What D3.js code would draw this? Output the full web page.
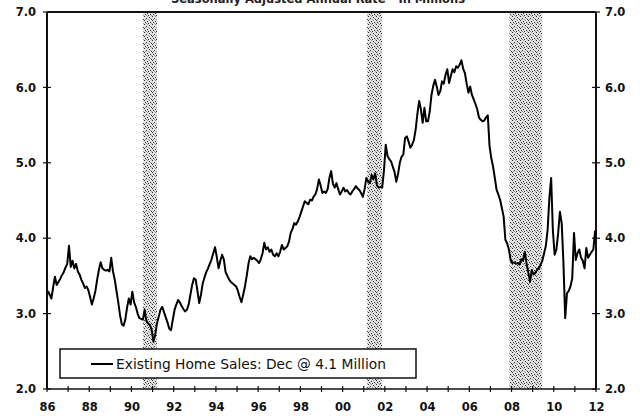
<!DOCTYPE html>
<html>
<head>
<meta charset="utf-8">
<script src="https://cdn.jsdelivr.net/npm/d3@7/dist/d3.min.js"></script>
<style>
  html, body { margin: 0; padding: 0; background: #fff; }
  svg { display: block; }
</style>
</head>
<body>
<svg id="chart" width="640" height="418"></svg>
<script>
// Existing single-family home sales, seasonally adjusted annual rate, millions.
// One row per year, January..December.
const startYear = 1986;
const sales = [
  [3.30, 3.25, 3.20, 3.35, 3.49, 3.38, 3.42, 3.46, 3.51, 3.55, 3.61, 3.66], // 1986
  [3.90, 3.62, 3.70, 3.60, 3.66, 3.56, 3.52, 3.45, 3.40, 3.34, 3.36, 3.31], // 1987
  [3.22, 3.12, 3.20, 3.30, 3.45, 3.58, 3.68, 3.60, 3.58, 3.57, 3.58, 3.56], // 1988
  [3.74, 3.56, 3.45, 3.30, 3.15, 2.98, 2.86, 2.84, 2.92, 3.08, 3.20, 3.12], // 1989
  [3.29, 3.15, 3.09, 3.00, 2.94, 2.93, 2.92, 3.05, 2.90, 2.87, 2.85, 2.78], // 1990
  [2.63, 2.72, 2.87, 2.96, 3.05, 3.09, 3.02, 2.95, 2.88, 2.80, 2.78, 2.92], // 1991
  [3.05, 3.12, 3.18, 3.15, 3.10, 3.06, 3.03, 3.05, 3.12, 3.25, 3.38, 3.47], // 1992
  [3.45, 3.30, 3.14, 3.25, 3.40, 3.48, 3.55, 3.60, 3.66, 3.72, 3.80, 3.88], // 1993
  [3.75, 3.60, 3.70, 3.78, 3.72, 3.55, 3.50, 3.45, 3.42, 3.40, 3.38, 3.36], // 1994
  [3.30, 3.22, 3.15, 3.25, 3.36, 3.50, 3.66, 3.76, 3.72, 3.74, 3.72, 3.70], // 1995
  [3.67, 3.72, 3.80, 3.94, 3.85, 3.88, 3.82, 3.85, 3.78, 3.76, 3.80, 3.76], // 1996
  [3.82, 3.91, 3.85, 3.87, 3.89, 3.95, 4.07, 4.12, 4.20, 4.18, 4.22, 4.28], // 1997
  [4.35, 4.42, 4.49, 4.47, 4.45, 4.51, 4.50, 4.55, 4.58, 4.65, 4.78, 4.70], // 1998
  [4.60, 4.62, 4.60, 4.65, 4.80, 4.89, 4.72, 4.67, 4.73, 4.65, 4.58, 4.62], // 1999
  [4.67, 4.62, 4.64, 4.60, 4.58, 4.62, 4.65, 4.69, 4.66, 4.64, 4.60, 4.55], // 2000
  [4.65, 4.80, 4.75, 4.73, 4.84, 4.78, 4.86, 4.70, 4.67, 4.68, 4.67, 4.90], // 2001
  [5.24, 5.09, 5.05, 5.02, 4.95, 4.88, 4.75, 4.85, 5.00, 5.08, 5.11, 5.33], // 2002
  [5.35, 5.28, 5.20, 5.24, 5.30, 5.44, 5.65, 5.82, 5.71, 5.53, 5.73, 5.55], // 2003
  [5.55, 5.68, 5.90, 6.02, 6.10, 6.01, 5.90, 5.95, 6.08, 6.05, 6.17, 6.24], // 2004
  [6.06, 6.15, 6.24, 6.20, 6.28, 6.26, 6.30, 6.36, 6.25, 6.19, 6.05, 5.93], // 2005
  [6.01, 5.90, 5.84, 5.78, 5.71, 5.60, 5.57, 5.55, 5.56, 5.60, 5.63, 5.22], // 2006
  [5.06, 4.95, 4.80, 4.64, 4.58, 4.51, 4.40, 4.29, 3.98, 3.93, 3.85, 3.71], // 2007
  [3.67, 3.68, 3.66, 3.67, 3.65, 3.72, 3.70, 3.82, 3.67, 3.55, 3.42, 3.58], // 2008
  [3.52, 3.54, 3.58, 3.60, 3.65, 3.70, 3.80, 3.90, 4.11, 4.53, 4.80, 4.10], // 2009
  [3.78, 3.85, 4.07, 4.35, 4.20, 3.67, 2.94, 3.27, 3.30, 3.36, 3.47, 4.07], // 2010
  [3.71, 3.80, 3.85, 3.74, 3.70, 3.60, 3.87, 3.74, 3.78, 3.82, 3.85, 4.10]  // 2011
];

// Recession periods (decimal years)
const recessions = [[1990.55, 1991.21], [2001.16, 2001.87], [2007.90, 2009.45]];

const yTicks = [2, 3, 4, 5, 6, 7];
const xLabelYears = [1986, 1988, 1990, 1992, 1994, 1996, 1998, 2000, 2002, 2004, 2006, 2008, 2010, 2012];
const titleText = "Seasonally Adjusted Annual Rate - In Millions";
const legendText = "Existing Home Sales: Dec @ 4.1 Million";

// Flatten to dated points at mid-month
const points = [];
sales.forEach((row, i) => row.forEach((v, m) => {
  points.push({ t: startYear + i + (m + 0.5) / 12, v });
}));

const svg = d3.select("#chart");
const plotL = 47, plotR = 596, plotT = 12, plotB = 389;
const x = d3.scaleLinear().domain([1986, 2012]).range([plotL, plotR]);
const y = d3.scaleLinear().domain([2, 7]).range([plotB, plotT]);
const fontFam = "DejaVu Sans, Verdana, sans-serif";

// Stippled fill for recession bands (irregular dot tile)
const defs = svg.append("defs");
const pat = defs.append("pattern")
  .attr("id", "stipple").attr("patternUnits", "userSpaceOnUse")
  .attr("width", 8).attr("height", 8);
pat.append("rect").attr("width", 8).attr("height", 8).attr("fill", "#e2e2e2");
const darkDots = [[0, 0], [5, 1], [2, 2], [7, 3], [3, 5], [6, 6], [1, 6], [4, 7], [0, 4]];
const midDots = [[3, 0], [6, 2], [1, 3], [5, 4], [7, 7], [2, 7], [4, 3]];
darkDots.forEach(([px, py]) => {
  pat.append("rect").attr("x", px).attr("y", py).attr("width", 1).attr("height", 1).attr("fill", "#333");
});
midDots.forEach(([px, py]) => {
  pat.append("rect").attr("x", px).attr("y", py).attr("width", 1).attr("height", 1).attr("fill", "#999");
});

// Title, partly clipped at the top edge
svg.append("text")
  .attr("x", 318).attr("y", 2.5)
  .attr("text-anchor", "middle")
  .attr("font-family", fontFam)
  .attr("font-size", 11.5).attr("font-weight", "bold")
  .attr("fill", "#222")
  .text(titleText);

// Recession bands
svg.append("g").selectAll("rect").data(recessions).join("rect")
  .attr("x", d => x(d[0]))
  .attr("width", d => x(d[1]) - x(d[0]))
  .attr("y", plotT).attr("height", plotB - plotT)
  .attr("fill", "url(#stipple)");

// Left axis
const yLeft = d3.axisLeft(y).tickValues(yTicks).tickFormat(d3.format(".1f")).tickSize(0).tickPadding(11);
const gl = svg.append("g").attr("transform", `translate(${plotL},0)`).call(yLeft);
// Right axis
const yRight = d3.axisRight(y).tickValues(yTicks).tickFormat(d3.format(".1f")).tickSize(0).tickPadding(9);
const gr = svg.append("g").attr("transform", `translate(${plotR},0)`).call(yRight);
// Bottom axis
const xAxis = d3.axisBottom(x).tickValues(xLabelYears)
  .tickFormat(d => String(d % 100).padStart(2, "0")).tickSize(0).tickPadding(14);
const gb = svg.append("g").attr("transform", `translate(0,${plotB})`).call(xAxis);

[gl, gr, gb].forEach(g => {
  g.select(".domain").remove();
  g.selectAll("text")
    .attr("font-family", fontFam)
    .attr("font-size", 11.5).attr("font-weight", "bold").attr("fill", "#111");
});

// Cross-style tick marks on both vertical axes
const tickG = svg.append("g").attr("stroke", "#111").attr("stroke-width", 1.2);
[plotL, plotR].forEach(ax => {
  tickG.selectAll(null).data(yTicks).join("line")
    .attr("x1", ax - 4).attr("x2", ax + 4)
    .attr("y1", d => y(d)).attr("y2", d => y(d));
});
// Yearly ticks on the bottom axis
tickG.selectAll(null).data(d3.range(1986, 2013)).join("line")
  .attr("x1", d => x(d)).attr("x2", d => x(d))
  .attr("y1", plotB - 3).attr("y2", plotB + 3);

// Frame
const frame = svg.append("g").attr("stroke", "#111").attr("fill", "none");
frame.append("line").attr("x1", plotL).attr("x2", plotR).attr("y1", plotT).attr("y2", plotT).attr("stroke-width", 2);
frame.append("line").attr("x1", plotL).attr("x2", plotR).attr("y1", plotB).attr("y2", plotB).attr("stroke-width", 1.3);
frame.append("line").attr("x1", plotL).attr("x2", plotL).attr("y1", plotT).attr("y2", plotB).attr("stroke-width", 2);
frame.append("line").attr("x1", plotR).attr("x2", plotR).attr("y1", plotT).attr("y2", plotB).attr("stroke-width", 2);

// Sales line
const line = d3.line().x(d => x(d.t)).y(d => y(d.v)).curve(d3.curveLinear);
svg.append("path").datum(points)
  .attr("d", line)
  .attr("fill", "none").attr("stroke", "#000")
  .attr("stroke-width", 2).attr("stroke-linejoin", "round");

// Legend
const lg = svg.append("g");
lg.append("rect").attr("x", 60).attr("y", 349).attr("width", 356).attr("height", 29)
  .attr("fill", "#fff").attr("stroke", "#111").attr("stroke-width", 1.5);
lg.append("line").attr("x1", 91).attr("x2", 113).attr("y1", 364).attr("y2", 364)
  .attr("stroke", "#000").attr("stroke-width", 2);
lg.append("text").attr("x", 116).attr("y", 369)
  .attr("font-family", fontFam)
  .attr("font-size", 13.8).attr("fill", "#111")
  .text(legendText);
</script>
</body>
</html>
